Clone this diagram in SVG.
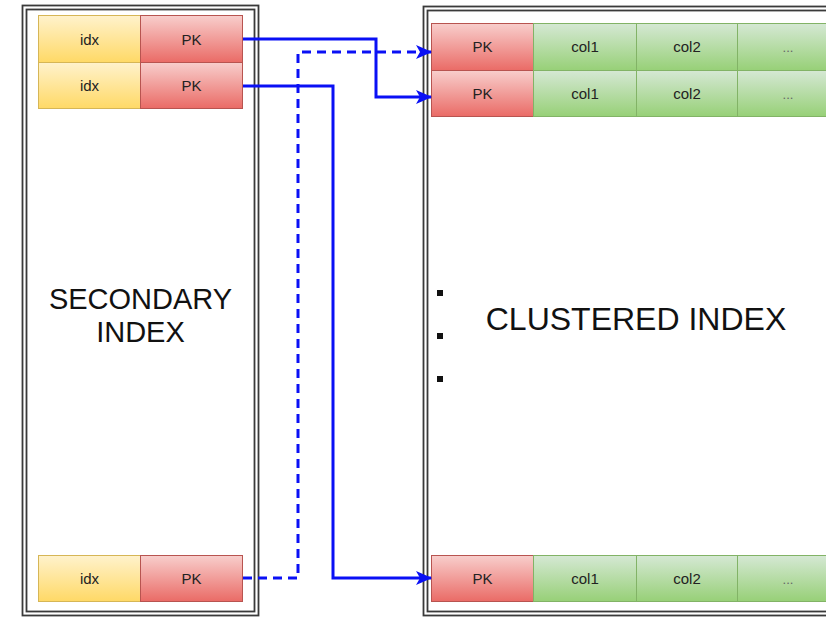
<svg xmlns="http://www.w3.org/2000/svg" width="826" height="617" viewBox="0 0 826 617">
  <style>
    .frame { fill: none; stroke: #3a3a3a; stroke-width: 1.8; }
    .idx { fill: url(#gYellow); stroke: #d6b656; stroke-width: 1; }
    .pk { fill: url(#gRed); stroke: #b85450; stroke-width: 1; }
    .col { fill: url(#gGreen); stroke: #82b366; stroke-width: 1; }
    .cell { font-family: "Liberation Sans", Arial, sans-serif; font-size: 15px; fill: #222; text-anchor: middle; }
    .dots { font-family: "Liberation Sans", Arial, sans-serif; font-size: 13px; fill: #666; text-anchor: middle; }
    .big { font-family: "Liberation Sans", Arial, sans-serif; fill: #111; text-anchor: middle; }
    .link { fill: none; stroke: #0a10f5; stroke-width: 3; }
    .dash { stroke-dasharray: 9 6; }
  </style>
  <defs>
    <linearGradient id="gYellow" x1="0" y1="0" x2="0" y2="1">
      <stop offset="0" stop-color="#fff2cc"/>
      <stop offset="1" stop-color="#ffd966"/>
    </linearGradient>
    <linearGradient id="gRed" x1="0" y1="0" x2="0" y2="1">
      <stop offset="0" stop-color="#f8cecc"/>
      <stop offset="1" stop-color="#ea6b66"/>
    </linearGradient>
    <linearGradient id="gGreen" x1="0" y1="0" x2="0" y2="1">
      <stop offset="0" stop-color="#d5e8d4"/>
      <stop offset="1" stop-color="#97d077"/>
    </linearGradient>
    <marker id="arrow" markerUnits="userSpaceOnUse" markerWidth="16" markerHeight="14" viewBox="0 0 16 14" refX="15" refY="7" orient="auto">
      <path d="M0,0 L16,7 L0,14 L4,7 Z" fill="#0a10f5"/>
    </marker>
  </defs>

  <rect width="826" height="617" fill="#ffffff"/>

  <!-- secondary index container -->
  <g id="secondary-index">
    <rect class="frame" x="22.5" y="5.5" width="236" height="610"/>
    <rect class="frame" x="26.5" y="9.5" width="228" height="602"/>
    <text class="big" font-size="29" x="140.5" y="309">SECONDARY</text>
    <text class="big" font-size="29" x="140.5" y="342">INDEX</text>
  </g>

  <g id="sec-row-1">
    <rect class="idx" x="38.5" y="15.5" width="102" height="47"/>
    <rect class="pk" x="140.5" y="15.5" width="102" height="47"/>
    <text class="cell" x="89.5" y="45">idx</text>
    <text class="cell" x="191.5" y="45">PK</text>
  </g>
  <g id="sec-row-2">
    <rect class="idx" x="38.5" y="62.5" width="102" height="46"/>
    <rect class="pk" x="140.5" y="62.5" width="102" height="46"/>
    <text class="cell" x="89.5" y="91">idx</text>
    <text class="cell" x="191.5" y="91">PK</text>
  </g>
  <g id="sec-row-n">
    <rect class="idx" x="38.5" y="555.5" width="102" height="46"/>
    <rect class="pk" x="140.5" y="555.5" width="102" height="46"/>
    <text class="cell" x="89.5" y="584">idx</text>
    <text class="cell" x="191.5" y="584">PK</text>
  </g>

  <!-- clustered index container -->
  <g id="clustered-index">
    <rect class="frame" x="423.5" y="6.5" width="420" height="609"/>
    <rect class="frame" x="427.5" y="10.5" width="412" height="601"/>
    <text class="big" font-size="32" x="636" y="330">CLUSTERED INDEX</text>
    <rect x="437" y="290" width="6" height="6" fill="#111"/>
    <rect x="437" y="333" width="6" height="6" fill="#111"/>
    <rect x="437" y="376" width="6" height="6" fill="#111"/>
  </g>

  <g id="clu-row-1">
    <rect class="pk" x="431.5" y="23.5" width="102" height="47"/>
    <rect class="col" x="533.5" y="23.5" width="103" height="47"/>
    <rect class="col" x="636.5" y="23.5" width="101" height="47"/>
    <rect class="col" x="737.5" y="23.5" width="102" height="47"/>
    <text class="cell" x="482.5" y="52">PK</text>
    <text class="cell" x="585" y="52">col1</text>
    <text class="cell" x="687" y="52">col2</text>
    <text class="dots" x="788" y="52">...</text>
  </g>
  <g id="clu-row-2">
    <rect class="pk" x="431.5" y="70.5" width="102" height="46"/>
    <rect class="col" x="533.5" y="70.5" width="103" height="46"/>
    <rect class="col" x="636.5" y="70.5" width="101" height="46"/>
    <rect class="col" x="737.5" y="70.5" width="102" height="46"/>
    <text class="cell" x="482.5" y="99">PK</text>
    <text class="cell" x="585" y="99">col1</text>
    <text class="cell" x="687" y="99">col2</text>
    <text class="dots" x="788" y="99">...</text>
  </g>
  <g id="clu-row-n">
    <rect class="pk" x="431.5" y="555.5" width="102" height="46"/>
    <rect class="col" x="533.5" y="555.5" width="103" height="46"/>
    <rect class="col" x="636.5" y="555.5" width="101" height="46"/>
    <rect class="col" x="737.5" y="555.5" width="102" height="46"/>
    <text class="cell" x="482.5" y="584">PK</text>
    <text class="cell" x="585" y="584">col1</text>
    <text class="cell" x="687" y="584">col2</text>
    <text class="dots" x="788" y="584">...</text>
  </g>

  <!-- pointers from secondary PK values to clustered rows -->
  <g id="connectors">
    <path class="link dash" d="M243,578 H298 V52 H431" marker-end="url(#arrow)"/>
    <path class="link" d="M243,39 H376 V97 H431" marker-end="url(#arrow)"/>
    <path class="link" d="M243,86 H333 V578 H431" marker-end="url(#arrow)"/>
  </g>
</svg>
